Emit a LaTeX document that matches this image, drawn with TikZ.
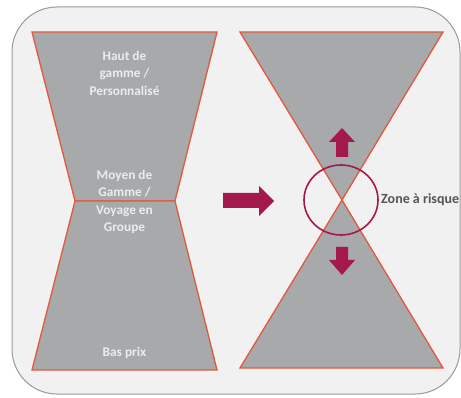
\documentclass[tikz,border=0pt]{standalone}
\usepackage{fontspec}
\setmainfont{Carlito}
\definecolor{bgfill}{HTML}{F1F1F1}
\definecolor{frameline}{HTML}{9A9A9A}
\definecolor{shapefill}{HTML}{A7A9AB}
\definecolor{edge}{HTML}{E2583E}
\definecolor{wine}{HTML}{A3194B}
\definecolor{labelgray}{HTML}{555555}
\definecolor{lighttext}{HTML}{ECECEC}
\begin{document}
\begin{tikzpicture}[x=1pt,y=-1pt,
  shapebox/.style={fill=shapefill,draw=edge,line width=1.3pt,line join=miter},
  blockarrow/.style={fill=wine,draw=none},
  intext/.style={text=lighttext,font=\bfseries\fontsize{13.3}{17.5}\selectfont,align=center,inner sep=0pt},
  risk/.style={text=labelgray,font=\bfseries\fontsize{14}{16}\selectfont,inner sep=0pt,anchor=west}]
\useasboundingbox (0,0) rectangle (461,398);
\fill[white] (0,0) rectangle (461,398);
\draw[fill=bgfill,draw=frameline,line width=1pt,rounded corners=45pt] (12,7) rectangle (460,394);
% left hourglass
\draw[shapebox] (32,32) -- (217,32) -- (175,201) -- (75,201) -- cycle;
\draw[shapebox] (75,201) -- (175,201) -- (217,370) -- (32,370) -- cycle;
% right triangles
\draw[shapebox] (240,32) -- (443,32) -- (342,200) -- cycle;
\draw[shapebox] (342,200) -- (443,368) -- (240,368) -- cycle;
% texts
\node[intext] (haut) at (124.5,73) {Haut de\\gamme /\\Personnalisé};
\node[intext] (moyen) at (124.5,202) {Moyen de\\Gamme /\\Voyage en\\Groupe};
\node[intext] (bas) at (124.5,353) {Bas prix};
% big right arrow
\fill[blockarrow] (223,193) -- (259,193) -- (259,186) -- (274,201) -- (259,216) -- (259,208) -- (223,208) -- cycle;
% up arrow
\fill[blockarrow] (336,157) -- (336,142) -- (329,142) -- (342,128) -- (355,142) -- (348,142) -- (348,157) -- cycle;
% down arrow
\fill[blockarrow] (336,247) -- (336,260) -- (329,260) -- (342,275) -- (355,260) -- (348,260) -- (348,247) -- cycle;
% circle
\draw[wine,line width=1.6pt] (341,200) ellipse [x radius=37, y radius=35];
\node[risk] (zone) at (381,200) {Zone à risque};
\end{tikzpicture}
\end{document}
